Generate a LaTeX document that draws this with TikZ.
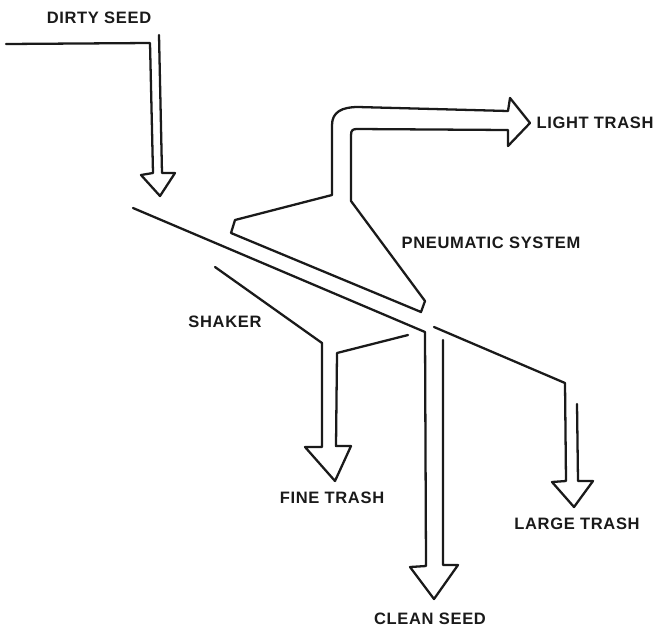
\documentclass[tikz,border=0pt]{standalone}
\usepackage{fontspec}
\setmainfont{Liberation Sans}
\usepackage{xcolor}
\usetikzlibrary{calc}
\definecolor{ink}{HTML}{1A1A1A}
\tikzset{
  tag/.style={inner sep=0pt, text=ink, font=\fontsize{9.4}{11}\selectfont\bfseries\addfontfeature{LetterSpace=4}},
  flow/.style={draw=ink, line width=1.3pt, line join=round, line cap=round, fill=none}
}

\begin{document}
\begin{tikzpicture}[x=0.02cm, y=-0.02cm]
  \useasboundingbox (0,0) rectangle (655,626);

  \node[tag] (dirty) at (99,18) {DIRTY SEED};
  \node[tag] (light) at (595,123) {LIGHT TRASH};
  \node[tag] (pneu) at (491,243) {PNEUMATIC SYSTEM};
  \node[tag] (shaker) at (225,322) {SHAKER};
  \node[tag] (fine) at (332,498) {FINE TRASH};
  \node[tag] (large) at (577,524) {LARGE TRASH};
  \node[tag] (clean) at (430,619) {CLEAN SEED};

  % incoming seed
  \draw[flow] (6,44)--(150,43)--(153,173)--(141,175)--(160,196)--(175,173)--(162,173)--(159,35);

  % main plate and clean seed
  \draw[flow] (133,208)--(425,332)--(426,566)--(410,567)--(434,599)--(458,565)--(443,565)--(443,340);

  % large trash
  \draw[flow] (434,327)--(565,383)--(566,481)--(552,482)--(574,507)--(593,481)--(578,481)--(577,404);

  % shaker and fine trash
  \draw[flow] (215,267)--(322,343)--(322,447)--(305,447)--(335,481)--(351,446)--(336,446)--(337,353)--(408,335);

  % pneumatic system
  \draw[flow] (508,111)--(358,107) .. controls (342,107) and (332,112) .. (332,125)
    --(332,195)--(235,220)--(231,233)--(421,312)--(425,301)--(351,201)--(351,135)
    .. controls (351,130) and (353,129) .. (357,129)--(508,130)--(508,146)--(530,123)--(510,98)--cycle;
\end{tikzpicture}
\end{document}
